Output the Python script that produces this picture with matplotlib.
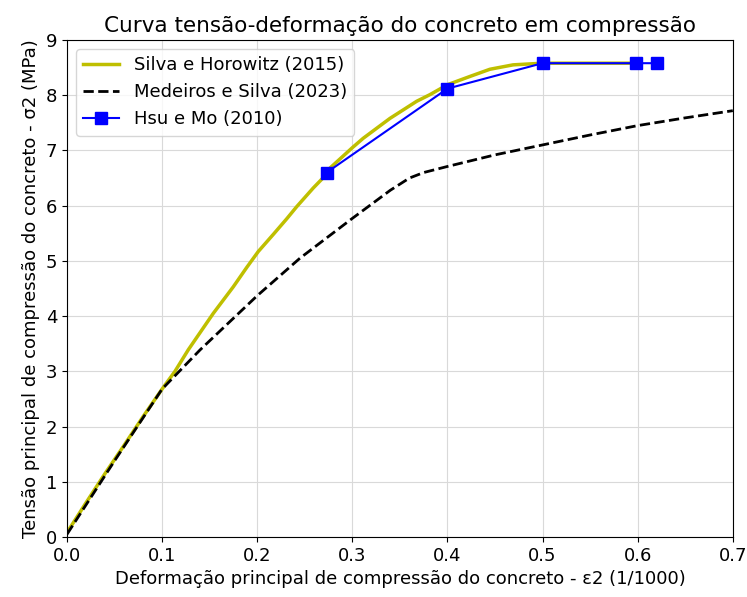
import matplotlib
matplotlib.use("Agg")
import matplotlib.pyplot as plt

# Silva e Horowitz (2015) - experimental curve
silva_eps = [0.0, 0.02, 0.04, 0.06, 0.08, 0.1, 0.1135, 0.1275, 0.1538, 0.1748,
             0.1889, 0.2011, 0.2169, 0.2309, 0.2414, 0.2589, 0.273, 0.2764, 0.3,
             0.3114, 0.3395, 0.3676, 0.3815, 0.4, 0.4236, 0.4446, 0.469, 0.5,
             0.55, 0.6]
silva_sig = [0.08, 0.62, 1.15, 1.66, 2.18, 2.68, 3.0, 3.39, 4.05, 4.53,
             4.88, 5.17, 5.48, 5.76, 5.98, 6.32, 6.57, 6.68, 7.05,
             7.22, 7.58, 7.89, 8.01, 8.19, 8.34, 8.47, 8.55, 8.58,
             8.58, 8.58]

# Medeiros e Silva (2023) - model curve
medeiros_eps = [0.0, 0.05, 0.1, 0.14, 0.2, 0.245, 0.3, 0.34, 0.36, 0.375,
                0.4, 0.45, 0.5, 0.55, 0.6, 0.65, 0.7]
medeiros_sig = [0.05, 1.38, 2.68, 3.39, 4.37, 5.05, 5.77, 6.28, 6.5, 6.6,
                6.71, 6.92, 7.1, 7.28, 7.45, 7.59, 7.72]

# Hsu e Mo (2010)
hsu_eps = [0.273, 0.4, 0.5, 0.598, 0.62]
hsu_sig = [6.6, 8.12, 8.58, 8.58, 8.58]

fig = plt.figure(figsize=(7.47, 5.97), dpi=100)
ax = fig.add_axes([0.0897, 0.1005, 0.8913, 0.8325])

ax.plot(silva_eps, silva_sig, color="y", linewidth=2.5, label="Silva e Horowitz (2015)")
ax.plot(medeiros_eps, medeiros_sig, "k--", linewidth=2, label="Medeiros e Silva (2023)")
ax.plot(hsu_eps, hsu_sig, "b-s", linewidth=1.5, markersize=8, label="Hsu e Mo (2010)")

ax.set_xlim(0, 0.7)
ax.set_ylim(0, 9)
ax.grid(True, color="#d9d9d9")
ax.set_axisbelow(True)

ax.set_title("Curva tensão-deformação do concreto em compressão", fontsize=15.5)
ax.set_xlabel("Deformação principal de compressão do concreto - ε2 (1/1000)", fontsize=13)
ax.set_ylabel("Tensão principal de compressão do concreto - σ2 (MPa)", fontsize=13)
ax.tick_params(labelsize=13)
ax.legend(loc="upper left", fontsize=13)

fig.savefig("out.png", dpi=100)
